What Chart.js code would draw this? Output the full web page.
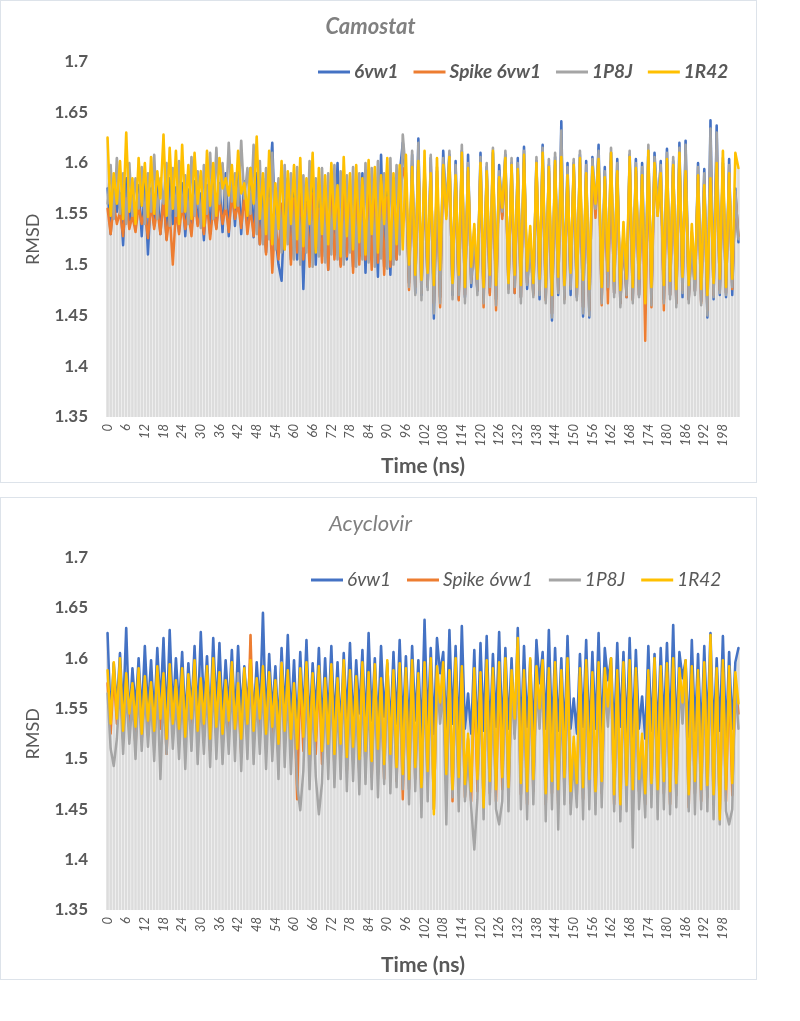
<!DOCTYPE html>
<html>
<head>
<meta charset="utf-8">
<title>RMSD Camostat / Acyclovir</title>
<script src="https://cdn.jsdelivr.net/npm/chart.js@4.4.1/dist/chart.umd.min.js"></script>
<style>
  body { margin: 0; background: #fff; }
  .box { position: absolute; left: 0; width: 755px; height: 481px; border: 1px solid #dde3ea; }
  #box1 { top: 0; }
  #box2 { top: 497px; }
  canvas { display: block; }
</style>
</head>
<body>
<div class="box" id="box1"><canvas id="chart-camostat" width="755" height="481"></canvas></div>
<div class="box" id="box2"><canvas id="chart-acyclovir" width="755" height="481"></canvas></div>
<script>
// ---------- data ----------
const seriesNames = ['6vw1', 'Spike 6vw1', '1P8J', '1R42'];

const timeNs = [
  0,1,2,3,4,5,6,7,8,9,10,11,12,13,14,15,16,17,18,19,20,21,22,23,24,25,26,27,28,29,
  30,31,32,33,34,35,36,37,38,39,40,41,42,43,44,45,46,47,48,49,50,51,52,53,54,55,56,57,58,59,
  60,61,62,63,64,65,66,67,68,69,70,71,72,73,74,75,76,77,78,79,80,81,82,83,84,85,86,87,88,89,
  90,91,92,93,94,95,96,97,98,99,100,101,102,103,104,105,106,107,108,109,110,111,112,113,114,115,116,117,118,119,
  120,121,122,123,124,125,126,127,128,129,130,131,132,133,134,135,136,137,138,139,140,141,142,143,144,145,146,147,148,149,
  150,151,152,153,154,155,156,157,158,159,160,161,162,163,164,165,166,167,168,169,170,171,172,173,174,175,176,177,178,179,
  180,181,182,183,184,185,186,187,188,189,190,191,192,193,194,195,196,197,198,199,200,201,202,203
];

const rmsdMin = 1.35, rmsdMax = 1.7, rmsdStep = 0.05;
const labelEvery = 6;

// Camostat
const camostat6vw1 = [
  1.575,1.530,1.580,1.552,1.570,1.519,1.585,1.540,1.572,1.535,1.578,1.528,
  1.582,1.510,1.575,1.538,1.580,1.530,1.570,1.525,1.585,1.540,1.576,1.532,
  1.580,1.528,1.574,1.535,1.582,1.540,1.570,1.524,1.578,1.530,1.586,1.536,
  1.580,1.532,1.590,1.528,1.585,1.538,1.592,1.530,1.582,1.535,1.595,1.527,
  1.590,1.520,1.585,1.512,1.575,1.620,1.530,1.500,1.484,1.560,1.585,1.505,
  1.575,1.505,1.580,1.476,1.570,1.510,1.585,1.500,1.578,1.508,1.575,1.495,
  1.580,1.510,1.600,1.500,1.585,1.505,1.575,1.498,1.580,1.512,1.590,1.492,
  1.585,1.505,1.575,1.488,1.608,1.498,1.580,1.490,1.585,1.505,1.590,1.620,
  1.585,1.482,1.608,1.472,1.624,1.470,1.596,1.478,1.605,1.447,1.592,1.468,
  1.612,1.552,1.608,1.470,1.602,1.466,1.612,1.468,1.608,1.478,1.530,1.474,
  1.610,1.468,1.596,1.472,1.610,1.466,1.598,1.548,1.608,1.478,1.600,1.472,
  1.605,1.468,1.616,1.476,1.526,1.472,1.602,1.466,1.618,1.468,1.598,1.445,
  1.606,1.470,1.641,1.468,1.600,1.470,1.600,1.468,1.608,1.449,1.602,1.448,
  1.606,1.550,1.618,1.466,1.596,1.475,1.610,1.472,1.604,1.462,1.530,1.468,
  1.608,1.466,1.604,1.470,1.600,1.472,1.612,1.466,1.610,1.552,1.602,1.466,
  1.614,1.470,1.602,1.462,1.620,1.468,1.622,1.466,1.528,1.474,1.600,1.464,
  1.594,1.448,1.642,1.466,1.637,1.470,1.600,1.468,1.604,1.470,1.575,1.522
];
const camostatSpike = [
  1.555,1.530,1.560,1.540,1.552,1.528,1.565,1.535,1.548,1.532,1.558,1.540,
  1.552,1.526,1.560,1.535,1.556,1.530,1.565,1.524,1.550,1.500,1.555,1.530,
  1.560,1.535,1.552,1.528,1.565,1.538,1.550,1.530,1.562,1.525,1.556,1.535,
  1.565,1.540,1.558,1.532,1.570,1.545,1.560,1.536,1.568,1.530,1.555,1.528,
  1.560,1.520,1.552,1.510,1.565,1.492,1.548,1.505,1.560,1.515,1.570,1.500,
  1.565,1.512,1.575,1.505,1.560,1.498,1.570,1.515,1.555,1.502,1.568,1.495,
  1.572,1.505,1.560,1.498,1.575,1.508,1.565,1.492,1.570,1.500,1.562,1.505,
  1.575,1.495,1.568,1.502,1.580,1.490,1.566,1.498,1.574,1.505,1.585,1.595,
  1.580,1.475,1.598,1.478,1.602,1.472,1.590,1.480,1.598,1.462,1.585,1.458,
  1.596,1.548,1.600,1.475,1.588,1.465,1.602,1.470,1.592,1.485,1.528,1.475,
  1.598,1.458,1.590,1.470,1.600,1.455,1.585,1.545,1.598,1.476,1.592,1.472,
  1.590,1.468,1.600,1.482,1.530,1.470,1.596,1.475,1.602,1.465,1.592,1.452,
  1.598,1.475,1.612,1.466,1.588,1.480,1.594,1.470,1.600,1.458,1.590,1.455,
  1.596,1.546,1.600,1.460,1.585,1.462,1.602,1.472,1.592,1.462,1.528,1.468,
  1.600,1.465,1.592,1.470,1.588,1.425,1.605,1.458,1.596,1.548,1.590,1.455,
  1.600,1.470,1.596,1.462,1.604,1.475,1.606,1.466,1.532,1.474,1.588,1.462,
  1.582,1.455,1.610,1.470,1.612,1.475,1.596,1.472,1.590,1.476,1.568,1.528
];
const camostat1P8J = [
  1.560,1.598,1.545,1.605,1.550,1.590,1.540,1.600,1.548,1.585,1.555,1.596,
  1.540,1.590,1.552,1.608,1.545,1.585,1.560,1.600,1.538,1.595,1.548,1.602,
  1.552,1.588,1.540,1.606,1.548,1.592,1.536,1.598,1.550,1.610,1.545,1.615,
  1.560,1.600,1.555,1.620,1.562,1.590,1.558,1.622,1.565,1.595,1.550,1.618,
  1.530,1.602,1.520,1.595,1.525,1.610,1.515,1.585,1.512,1.598,1.520,1.590,
  1.505,1.596,1.500,1.588,1.512,1.602,1.498,1.585,1.508,1.595,1.502,1.590,
  1.510,1.598,1.505,1.592,1.500,1.588,1.512,1.596,1.498,1.590,1.505,1.600,
  1.502,1.595,1.498,1.602,1.506,1.590,1.496,1.605,1.500,1.598,1.510,1.628,
  1.590,1.478,1.612,1.470,1.620,1.465,1.600,1.475,1.608,1.452,1.596,1.462,
  1.605,1.556,1.612,1.466,1.598,1.470,1.618,1.462,1.600,1.482,1.535,1.470,
  1.606,1.462,1.600,1.478,1.615,1.460,1.592,1.552,1.612,1.472,1.605,1.478,
  1.600,1.462,1.612,1.480,1.522,1.468,1.606,1.470,1.615,1.462,1.604,1.448,
  1.610,1.472,1.632,1.462,1.596,1.476,1.604,1.465,1.612,1.452,1.598,1.450,
  1.604,1.555,1.612,1.462,1.592,1.478,1.615,1.468,1.600,1.458,1.534,1.470,
  1.612,1.462,1.600,1.468,1.596,1.470,1.618,1.460,1.606,1.556,1.598,1.462,
  1.610,1.466,1.606,1.458,1.615,1.472,1.618,1.462,1.526,1.470,1.596,1.460,
  1.590,1.450,1.634,1.468,1.630,1.472,1.605,1.470,1.598,1.478,1.572,1.525
];
const camostat1R42 = [
  1.625,1.548,1.590,1.560,1.602,1.545,1.630,1.552,1.585,1.540,1.605,1.558,
  1.600,1.547,1.606,1.550,1.592,1.565,1.628,1.548,1.615,1.555,1.612,1.540,
  1.618,1.552,1.598,1.545,1.610,1.560,1.592,1.538,1.612,1.558,1.600,1.548,
  1.605,1.575,1.585,1.568,1.598,1.556,1.612,1.570,1.580,1.548,1.595,1.560,
  1.626,1.545,1.590,1.530,1.612,1.520,1.580,1.535,1.602,1.515,1.592,1.540,
  1.598,1.525,1.605,1.518,1.585,1.540,1.610,1.512,1.595,1.530,1.588,1.520,
  1.600,1.535,1.578,1.508,1.606,1.528,1.590,1.515,1.598,1.522,1.585,1.510,
  1.603,1.530,1.596,1.512,1.588,1.540,1.605,1.505,1.590,1.520,1.598,1.515,
  1.608,1.500,1.596,1.490,1.602,1.485,1.612,1.492,1.590,1.480,1.605,1.495,
  1.598,1.545,1.606,1.482,1.588,1.490,1.610,1.478,1.595,1.498,1.540,1.486,
  1.600,1.478,1.592,1.490,1.612,1.480,1.586,1.556,1.605,1.482,1.598,1.490,
  1.594,1.480,1.608,1.494,1.538,1.482,1.600,1.486,1.610,1.478,1.596,1.470,
  1.602,1.488,1.606,1.480,1.588,1.492,1.598,1.478,1.605,1.485,1.590,1.476,
  1.596,1.560,1.604,1.478,1.586,1.494,1.610,1.484,1.592,1.475,1.542,1.486,
  1.606,1.478,1.595,1.486,1.588,1.462,1.612,1.478,1.600,1.548,1.590,1.480,
  1.604,1.484,1.598,1.476,1.610,1.488,1.592,1.480,1.540,1.486,1.588,1.476,
  1.578,1.470,1.585,1.482,1.600,1.486,1.612,1.478,1.590,1.486,1.610,1.595
];

// Acyclovir
const acyclovir6vw1 = [
  1.625,1.540,1.595,1.552,1.605,1.545,1.630,1.538,1.590,1.550,1.600,1.542,
  1.612,1.548,1.598,1.540,1.610,1.552,1.620,1.535,1.628,1.545,1.600,1.550,
  1.606,1.538,1.595,1.548,1.612,1.540,1.626,1.552,1.602,1.536,1.620,1.548,
  1.615,1.542,1.598,1.550,1.608,1.538,1.612,1.546,1.592,1.552,1.600,1.540,
  1.596,1.548,1.645,1.535,1.604,1.545,1.592,1.530,1.610,1.542,1.623,1.536,
  1.598,1.528,1.606,1.540,1.618,1.532,1.595,1.545,1.610,1.530,1.600,1.538,
  1.612,1.535,1.596,1.528,1.605,1.540,1.615,1.532,1.598,1.545,1.608,1.530,
  1.625,1.538,1.600,1.530,1.612,1.542,1.595,1.528,1.606,1.535,1.618,1.530,
  1.602,1.525,1.612,1.538,1.598,1.520,1.638,1.532,1.610,1.525,1.620,1.585,
  1.606,1.522,1.628,1.535,1.612,1.520,1.632,1.530,1.565,1.525,1.608,1.518,
  1.615,1.528,1.622,1.520,1.604,1.532,1.626,1.522,1.610,1.530,1.600,1.525,
  1.630,1.520,1.612,1.532,1.598,1.524,1.618,1.575,1.606,1.530,1.628,1.522,
  1.610,1.528,1.600,1.520,1.622,1.530,1.560,1.525,1.604,1.532,1.618,1.520,
  1.606,1.530,1.625,1.522,1.610,1.578,1.600,1.520,1.615,1.532,1.606,1.525,
  1.620,1.522,1.608,1.530,1.562,1.520,1.612,1.528,1.604,1.522,1.610,1.530,
  1.615,1.525,1.633,1.520,1.606,1.580,1.598,1.522,1.618,1.528,1.604,1.520,
  1.612,1.530,1.625,1.522,1.600,1.528,1.622,1.520,1.606,1.530,1.596,1.610
];
const acyclovirSpike = [
  1.575,1.525,1.585,1.535,1.590,1.520,1.578,1.530,1.570,1.512,1.582,1.520,
  1.575,1.528,1.568,1.515,1.585,1.530,1.578,1.505,1.586,1.525,1.570,1.518,
  1.582,1.510,1.576,1.528,1.590,1.515,1.572,1.522,1.585,1.508,1.592,1.520,
  1.578,1.512,1.570,1.525,1.588,1.518,1.568,1.505,1.582,1.520,1.623,1.515,
  1.572,1.528,1.585,1.512,1.578,1.520,1.570,1.500,1.588,1.515,1.580,1.505,
  1.568,1.460,1.582,1.508,1.590,1.492,1.578,1.505,1.585,1.495,1.572,1.500,
  1.586,1.490,1.572,1.500,1.590,1.488,1.580,1.498,1.575,1.485,1.588,1.492,
  1.578,1.482,1.586,1.495,1.572,1.480,1.590,1.490,1.580,1.478,1.588,1.460,
  1.582,1.470,1.590,1.480,1.578,1.462,1.588,1.476,1.592,1.450,1.585,1.548,
  1.588,1.472,1.580,1.458,1.592,1.470,1.585,1.462,1.520,1.458,1.582,1.468,
  1.578,1.455,1.590,1.466,1.582,1.458,1.588,1.470,1.592,1.460,1.580,1.530,
  1.600,1.465,1.580,1.455,1.592,1.468,1.584,1.542,1.590,1.455,1.582,1.466,
  1.588,1.455,1.580,1.470,1.592,1.456,1.515,1.465,1.582,1.460,1.590,1.468,
  1.578,1.456,1.588,1.466,1.582,1.545,1.592,1.455,1.580,1.450,1.588,1.462,
  1.590,1.458,1.582,1.468,1.518,1.455,1.580,1.465,1.592,1.458,1.584,1.466,
  1.586,1.455,1.592,1.464,1.582,1.548,1.590,1.452,1.584,1.466,1.580,1.458,
  1.588,1.462,1.610,1.455,1.582,1.448,1.590,1.458,1.584,1.464,1.578,1.545
];
const acyclovir1P8J = [
  1.565,1.510,1.493,1.520,1.575,1.505,1.570,1.515,1.560,1.500,1.572,1.508,
  1.568,1.512,1.560,1.498,1.574,1.480,1.565,1.505,1.578,1.510,1.562,1.500,
  1.570,1.490,1.566,1.508,1.580,1.495,1.562,1.505,1.575,1.492,1.582,1.500,
  1.568,1.495,1.560,1.505,1.578,1.498,1.585,1.488,1.570,1.500,1.590,1.495,
  1.566,1.505,1.578,1.490,1.570,1.498,1.560,1.480,1.596,1.492,1.572,1.485,
  1.560,1.475,1.449,1.488,1.578,1.470,1.566,1.482,1.445,1.476,1.570,1.480,
  1.578,1.472,1.562,1.480,1.585,1.468,1.570,1.478,1.565,1.465,1.580,1.475,
  1.568,1.470,1.578,1.462,1.562,1.475,1.585,1.466,1.570,1.472,1.582,1.470,
  1.575,1.455,1.585,1.468,1.570,1.442,1.590,1.458,1.578,1.450,1.582,1.535,
  1.570,1.435,1.586,1.462,1.575,1.448,1.580,1.458,1.505,1.452,1.410,1.460,
  1.578,1.440,1.586,1.455,1.572,1.450,1.435,1.458,1.588,1.448,1.575,1.520,
  1.596,1.450,1.570,1.440,1.585,1.455,1.575,1.530,1.590,1.438,1.578,1.450,
  1.582,1.430,1.572,1.455,1.586,1.445,1.500,1.452,1.570,1.440,1.585,1.450,
  1.572,1.445,1.585,1.452,1.575,1.532,1.588,1.448,1.570,1.438,1.582,1.448,
  1.585,1.412,1.576,1.450,1.505,1.442,1.572,1.452,1.588,1.440,1.578,1.450,
  1.580,1.445,1.590,1.452,1.575,1.535,1.585,1.448,1.578,1.445,1.572,1.450,
  1.585,1.448,1.606,1.440,1.578,1.435,1.586,1.448,1.435,1.450,1.575,1.530
];
const acyclovir1R42 = [
  1.588,1.535,1.596,1.540,1.600,1.528,1.585,1.545,1.575,1.532,1.590,1.525,
  1.582,1.538,1.576,1.528,1.592,1.540,1.585,1.520,1.594,1.535,1.578,1.530,
  1.590,1.522,1.584,1.540,1.598,1.528,1.580,1.535,1.592,1.520,1.600,1.532,
  1.586,1.525,1.578,1.538,1.596,1.530,1.575,1.520,1.590,1.535,1.598,1.528,
  1.580,1.540,1.592,1.525,1.586,1.532,1.578,1.515,1.595,1.528,1.588,1.520,
  1.575,1.510,1.590,1.522,1.596,1.505,1.585,1.518,1.592,1.508,1.580,1.515,
  1.594,1.505,1.580,1.515,1.598,1.502,1.588,1.512,1.582,1.500,1.596,1.508,
  1.586,1.498,1.594,1.510,1.580,1.495,1.598,1.505,1.588,1.492,1.595,1.485,
  1.590,1.480,1.598,1.492,1.585,1.472,1.596,1.488,1.600,1.445,1.592,1.556,
  1.596,1.485,1.588,1.470,1.600,1.482,1.592,1.475,1.525,1.468,1.590,1.480,
  1.586,1.452,1.598,1.478,1.590,1.470,1.596,1.482,1.600,1.472,1.588,1.540,
  1.620,1.476,1.588,1.468,1.600,1.480,1.592,1.550,1.598,1.466,1.590,1.478,
  1.596,1.470,1.588,1.482,1.600,1.468,1.522,1.476,1.590,1.472,1.598,1.480,
  1.586,1.468,1.596,1.478,1.590,1.552,1.600,1.465,1.588,1.455,1.596,1.474,
  1.598,1.470,1.590,1.480,1.525,1.466,1.588,1.476,1.600,1.470,1.592,1.478,
  1.595,1.468,1.600,1.476,1.590,1.556,1.598,1.465,1.592,1.478,1.588,1.470,
  1.596,1.474,1.623,1.465,1.590,1.440,1.598,1.470,1.592,1.476,1.586,1.555
];

// ---------- look ----------
Chart.defaults.font.family = 'Lato';
Chart.defaults.animation = false;

const seriesColors = ['#4472C4', '#ED7D31', '#A5A5A5', '#FFC000'];
const textGray = '#595959';

// Excel "drop lines": gray line from the top point of every time step down to the axis
const dropLines = {
  id: 'dropLines',
  beforeDatasetsDraw(chart) {
    const { ctx, chartArea } = chart;
    ctx.save();
    ctx.strokeStyle = '#dcdcdc';
    ctx.lineWidth = 2.6;
    ctx.beginPath();
    chart.data.labels.forEach((_, i) => {
      let x = null, top = chartArea.bottom;
      chart.data.datasets.forEach((d, k) => {
        const p = chart.getDatasetMeta(k).data[i];
        if (p) { x = p.x; top = Math.min(top, p.y); }
      });
      if (x === null) return;
      ctx.moveTo(x, top);
      ctx.lineTo(x, chartArea.bottom);
    });
    ctx.stroke();
    ctx.restore();
  }
};

// legend sits inside the plot, under the 1.7 line
const lineLegend = {
  id: 'lineLegend',
  afterDraw(chart, args, opts) {
    const ctx = chart.ctx;
    ctx.save();
    ctx.font = opts.font;
    ctx.textBaseline = 'middle';
    let x = opts.x;
    chart.data.datasets.forEach(ds => {
      ctx.strokeStyle = ds.borderColor;
      ctx.lineWidth = 3;
      ctx.beginPath();
      ctx.moveTo(x, opts.y);
      ctx.lineTo(x + 32, opts.y);
      ctx.stroke();
      x += 36;
      ctx.fillStyle = textGray;
      ctx.fillText(ds.label, x, opts.y);
      x += ctx.measureText(ds.label).width + opts.gap;
    });
    ctx.restore();
  }
};

function rmsdChart(canvasId, title, series, o) {
  const canvas = document.getElementById(canvasId);
  return new Chart(canvas, {
    type: 'line',
    data: {
      labels: timeNs,
      datasets: series.map((d, i) => ({
        label: seriesNames[i],
        data: d,
        borderColor: seriesColors[i],
        backgroundColor: seriesColors[i],
        borderWidth: 2.5,
        borderJoinStyle: 'round',
        borderCapStyle: 'round',
        pointRadius: 0,
        tension: 0,
        order: 4 - i   // 1R42 drawn on top, 6vw1 at the bottom
      }))
    },
    options: {
      responsive: false,
      layout: { padding: { left: 0, right: 16, top: 0, bottom: 0 } },
      plugins: {
        legend: { display: false },
        tooltip: { enabled: false },
        title: {
          display: true,
          text: title,
          color: '#808080',
          font: { size: 22, style: 'italic', weight: o.titleWeight },
          padding: { top: 13, bottom: o.titleBottom }
        },
        lineLegend: { x: o.legendX, y: o.legendY, gap: o.legendGap, font: o.legendFont }
      },
      scales: {
        x: {
          type: 'category',
          offset: true,
          grid: { display: false, drawTicks: false },
          border: { display: false },
          ticks: {
            autoSkip: false,
            maxRotation: 90,
            minRotation: 90,
            padding: 7,
            color: textGray,
            font: { size: 13, style: 'italic' },
            callback: function (v, i) { return i % labelEvery === 0 ? this.getLabelForValue(v) : null; }
          },
          title: {
            display: true,
            text: 'Time (ns)',
            color: textGray,
            font: { size: 21, weight: 'bold' },
            padding: { top: 0, bottom: o.xTitleBottom }
          },
          afterFit: s => { s.height = o.xHeight; }
        },
        y: {
          min: rmsdMin,
          max: rmsdMax,
          grid: { display: false, drawTicks: false },
          border: { display: false },
          ticks: {
            stepSize: rmsdStep,
            padding: 18,
            color: textGray,
            font: { size: 17, weight: 'bold' },
            callback: v => String(Number(v.toFixed(2)))
          },
          title: {
            display: true,
            text: 'RMSD',
            color: textGray,
            font: { size: 18 },
            padding: { top: 21, bottom: 0 }
          },
          afterFit: s => { s.width = 105; }
        }
      }
    },
    plugins: [dropLines, lineLegend]
  });
}

rmsdChart('chart-camostat', 'Camostat',
  [camostat6vw1, camostatSpike, camostat1P8J, camostat1R42],
  { titleWeight: 'bold', titleBottom: 21, xHeight: 65, xTitleBottom: 3,
    legendX: 317, legendY: 71, legendGap: 15, legendFont: 'italic bold 19px Lato' });

rmsdChart('chart-acyclovir', 'Acyclovir',
  [acyclovir6vw1, acyclovirSpike, acyclovir1P8J, acyclovir1R42],
  { titleWeight: 'normal', titleBottom: 20, xHeight: 69, xTitleBottom: 1,
    legendX: 310, legendY: 82, legendGap: 16, legendFont: 'italic 19px Lato' });
</script>
</body>
</html>
